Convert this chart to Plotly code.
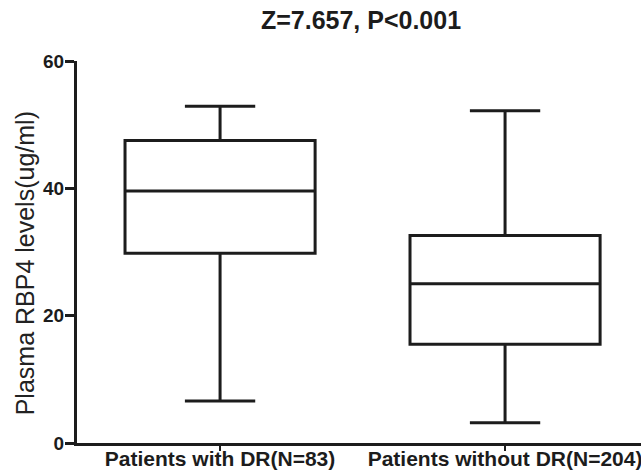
import plotly.graph_objects as go

categories = ["Patients with DR(N=83)", "Patients without DR(N=204)"]
lower_whisker = [6.6, 3.2]
q1_values = [29.8, 15.5]
median_values = [39.6, 25.0]
q3_values = [47.5, 32.6]
upper_whisker = [52.9, 52.2]
y_ticks = [0, 20, 40, 60]
title_text = "Z=7.657, P<0.001"
y_title = "Plasma RBP4 levels(ug/ml)"

INK = "#1c1c1c"
FONT = "Liberation Sans, Arial, sans-serif"

fig = go.Figure()
fig.add_trace(go.Box(
    x=categories,
    q1=q1_values,
    median=median_values,
    q3=q3_values,
    lowerfence=lower_whisker,
    upperfence=upper_whisker,
    boxpoints=False,
    fillcolor="white",
    line=dict(color=INK, width=3),
    whiskerwidth=0.37,
    width=0.667,
    showlegend=False,
    hoverinfo="skip",
))

fig.update_layout(
    width=641, height=476,
    margin=dict(l=77, r=0, t=61, b=33),
    paper_bgcolor="white", plot_bgcolor="white",
    title=dict(text=f"<b>{title_text}</b>", x=361/641, xanchor="center",
               y=1 - 20.5/476, yanchor="middle", yref="container",
               font=dict(family=FONT, size=25, color=INK)),
    xaxis=dict(
        type="category",
        range=[-0.502, 1.477],
        automargin=False,
        showline=True, linecolor=INK, linewidth=3,
        ticks="outside", ticklen=5, tickwidth=2, tickcolor=INK,
        ticklabelstandoff=-10,
        showgrid=False, zeroline=False,
        tickfont=dict(family=FONT, size=21, color=INK),
        tickvals=categories,
        ticktext=[f"<b>{c}</b>" for c in categories],
    ),
    yaxis=dict(
        range=[0, 60],
        automargin=False,
        tickvals=y_ticks,
        ticktext=[f"<b>{v}</b>" for v in y_ticks],
        showline=True, linecolor=INK, linewidth=3,
        ticks="outside", ticklen=9, tickwidth=3, tickcolor=INK,
        ticklabelstandoff=-3,
        showgrid=False, zeroline=False,
        tickfont=dict(family=FONT, size=19, color=INK),
    ),
    annotations=[dict(
        text=y_title, textangle=-90,
        xref="paper", yref="paper",
        x=(25 - 77) / 564, y=(442.7 - 263) / 382,
        xanchor="center", yanchor="middle", showarrow=False,
        font=dict(family=FONT, size=25, color="#222222"),
    )],
)

fig.write_html(
    "out.html",
    config={"displayModeBar": False},
    post_script="document.body.style.margin='0';document.body.style.overflow='hidden';",
)
